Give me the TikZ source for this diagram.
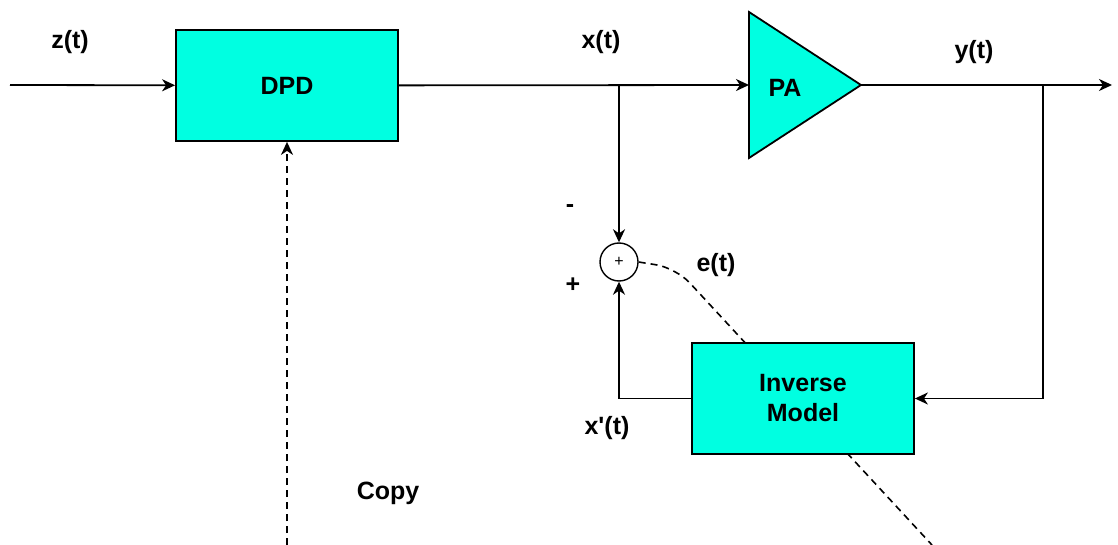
\documentclass[tikz,border=0pt]{standalone}
\usepackage{fontspec}
\setmainfont{Liberation Sans}
\usepackage{tikz}
\usetikzlibrary{arrows.meta,backgrounds}
\definecolor{boxcyan}{RGB}{0,255,225}

\tikzset{
	block/.style={draw=black, fill=boxcyan, line width=0.9pt, minimum width=111pt, minimum height=55.5pt, align=center, font=\fontsize{12.5}{15}\selectfont\bfseries},
	sumnode/.style={draw=black, fill=white, circle, line width=0.7pt, minimum size=19pt, inner sep=0pt, font=\fontsize{8}{9}\selectfont},
	lbl/.style={font=\fontsize{12.5}{15}\selectfont\bfseries},
	sig/.style={line width=0.9pt, -{Stealth[length=6.5pt,width=6pt,inset=2pt]}},
	dsh/.style={line width=0.8pt, dash pattern=on 3.5pt off 2.5pt}
}

\begin{document}
\begin{tikzpicture}[x=0.5pt,y=-0.5pt]
				\useasboundingbox (0,0) rectangle (1118,545);
				\coordinate (in) at (10,85);
				\coordinate (out) at (1112,85);
				\coordinate (xsplit) at (619,85);
				\coordinate (ysplit) at (1043,85);
				\coordinate (pain) at (749,85);
				\coordinate (paout) at (861,85);
				\coordinate (copy) at (287,545);
				\coordinate (ebend) at (676,268);
				\coordinate (eend) at (932,545);
				\node[block] (dpd) at (287,85.5) {DPD};
				\node[block] (inv) at (803,398.5) {Inverse\\Model};
				\draw[line width=0.9pt, fill=boxcyan] (749,12) -- (paout) -- (749,158) -- cycle;
				\node[lbl] (pa) at (785,88) {PA};
				\node[sumnode] (sum) at (619,262) {+};
				\begin{scope}[on background layer]
				\draw[dsh, rounded corners=10pt] (sum.east) -- (ebend) -- (eend);
				\end{scope}
				\draw[sig] (in) -- (dpd);
				\draw[sig] (dpd) -- (pain);
				\draw[sig] (paout) -- (out);
				\draw[sig] (xsplit) -- (sum);
				\draw[sig] (ysplit) |- (inv);
				\draw[sig] (inv) -| (sum);
				\draw[sig, dsh] (copy) -- (dpd);
				\node[lbl] (zlbl) at (70,42) {z(t)};
				\node[lbl] (xlbl) at (601,42) {x(t)};
				\node[lbl] (ylbl) at (974,52) {y(t)};
				\node[lbl] (minus) at (570,209) {-};
				\node[lbl] (plus) at (573,285) {+};
				\node[lbl] (elbl) at (716,265) {e(t)};
				\node[lbl] (xplbl) at (607,428) {x\textquotesingle(t)};
				\node[lbl] (copylbl) at (388,493) {Copy};
			\end{tikzpicture}
\end{document}
